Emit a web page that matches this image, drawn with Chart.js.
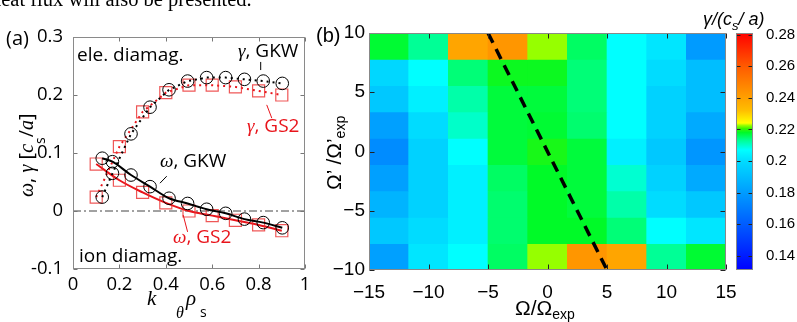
<!DOCTYPE html>
<html><head><meta charset="utf-8">
<script src="https://cdn.jsdelivr.net/npm/chart.js@4.4.1/dist/chart.umd.min.js"></script>
<style>
html,body{margin:0;padding:0;background:#fff;}
body{position:relative;width:797px;height:322px;overflow:hidden;}
canvas{position:absolute;top:0;}
#c1{left:0px} #c2{left:310px} #c3{left:730px}
svg{position:absolute;left:0;top:0;}
.gi{font-family:'Liberation Serif',serif;font-style:italic;}
</style></head><body>
<canvas id="c1" width="320" height="322"></canvas>
<canvas id="c2" width="440" height="322"></canvas>
<canvas id="c3" width="67" height="322"></canvas>
<svg width="797" height="322" xmlns="http://www.w3.org/2000/svg" font-family="'Open Sans'">
  <text x="-9" y="6" font-family="'Liberation Serif'" font-size="20.5">heat flux will also be presented.</text>
  <text x="6" y="45" font-size="20">(a)</text>
  <text x="316" y="42" font-family="'Liberation Sans'" font-size="20">(b)</text>
  <text x="77" y="61" font-size="19">ele. diamag.</text>
  <text x="79" y="262" font-size="19">ion diamag.</text>
  <text x="238" y="57" font-size="19"><tspan class="gi">γ</tspan>, GKW</text>
  <text x="247" y="132" font-size="19" fill="#e8141b"><tspan class="gi">γ</tspan>, GS2</text>
  <text x="160" y="167" font-size="19"><tspan class="gi">ω</tspan>, GKW</text>
  <text x="173" y="243" font-size="19" fill="#e8141b"><tspan class="gi">ω</tspan>, GS2</text>
  <text transform="translate(33,197) rotate(-90)" font-size="20"><tspan class="gi">ω</tspan>, <tspan class="gi">γ</tspan> [<tspan class="gi">c</tspan><tspan font-size="14" dy="12">s</tspan><tspan dy="-12">/</tspan><tspan class="gi">a</tspan>]</text>
  <text y="305" font-size="21"><tspan x="147" class="gi">k</tspan><tspan x="176" dy="13" class="gi" font-size="16">θ</tspan><tspan x="186" dy="-13" class="gi">ρ</tspan><tspan x="200" dy="12" font-size="14">s</tspan></text>
  <text transform="translate(341,190) rotate(-90)" font-family="'Liberation Sans'" font-size="21">Ω’ /Ω’<tspan font-size="14" dy="4">exp</tspan></text>
  <text x="515" y="315" font-family="'Liberation Sans'" font-size="21">Ω/Ω<tspan font-size="14" dy="4">exp</tspan></text>
  <text x="703" y="25" font-family="'Liberation Sans'" font-style="italic" font-size="18">γ/(c<tspan font-size="13" dy="5">s</tspan><tspan dy="-5">/ a)</tspan></text>
</svg>
<script>
// ---------------- panel (a) data ----------------
const kGKW     = [0.126, 0.170, 0.250, 0.332, 0.414, 0.494, 0.576, 0.658, 0.739, 0.820, 0.902];
const gammaGKW = [0.024, 0.065, 0.133, 0.179, 0.209, 0.224, 0.230, 0.230, 0.227, 0.224, 0.220];
const omegaGKW = [0.091, 0.085, 0.062, 0.042, 0.022, 0.013, 0.003, -0.004, -0.014, -0.020, -0.029];
const kGS2     = [0.1, 0.2, 0.3, 0.4, 0.5, 0.6, 0.7, 0.8, 0.9];
const gammaGS2 = [0.024, 0.111, 0.171, 0.204, 0.217, 0.217, 0.214, 0.207, 0.200];
const omegaGS2 = [0.081, 0.053, 0.032, 0.014, 0.000, -0.008, -0.016, -0.024, -0.034];
const xTicksA = [0, 0.2, 0.4, 0.6, 0.8, 1];
const yTicksA = [-0.1, 0, 0.1, 0.2, 0.3];
const xRangeA = [0, 1];
const yRangeA = [-0.1, 0.3];

// ---------------- panel (b) data ----------------
const omegaCenters      = [-13.333, -10, -6.667, -3.333, 0, 3.333, 6.667, 10, 13.333];
const omegaPrimeCenters = [8.889, 6.667, 4.444, 2.222, 0, -2.222, -4.444, -6.667, -8.889];
const gammaRowP8_9 = [0.2175, 0.213, 0.2387, 0.2429, 0.2225, 0.2153, 0.207, 0.202, 0.1793];
const gammaRowP6_7 = [0.1984, 0.207, 0.2144, 0.2185, 0.2185, 0.2144, 0.207, 0.200, 0.1905];
const gammaRowP4_4 = [0.1936, 0.204, 0.2119, 0.2171, 0.2171, 0.2144, 0.207, 0.1968, 0.1905];
const gammaRowP2_2 = [0.1809, 0.200, 0.2101, 0.2171, 0.2175, 0.2148, 0.207, 0.1968, 0.1841];
const gammaRow0    = [0.1745, 0.1968, 0.207, 0.2171, 0.219, 0.2171, 0.204, 0.1936, 0.1777];
const gammaRowM2_2 = [0.1809, 0.1968, 0.204, 0.2153, 0.218, 0.2171, 0.2096, 0.1968, 0.1841];
const gammaRowM4_4 = [0.1873, 0.1968, 0.204, 0.2148, 0.218, 0.2171, 0.2119, 0.200, 0.1936];
const gammaRowM6_7 = [0.1936, 0.200, 0.204, 0.2148, 0.218, 0.218, 0.2144, 0.207, 0.202];
const gammaRowM8_9 = [0.1809, 0.202, 0.207, 0.2153, 0.2225, 0.2429, 0.2387, 0.213, 0.2175];
const gammaRows = [gammaRowP8_9, gammaRowP6_7, gammaRowP4_4, gammaRowP2_2, gammaRow0,
                   gammaRowM2_2, gammaRowM4_4, gammaRowM6_7, gammaRowM8_9];
const dashOmega      = [-5, 5];
const dashOmegaPrime = [10, -10];
const xTicksB = [-15, -10, -5, 0, 5, 10, 15];
const yTicksB = [-10, -5, 0, 5, 10];
const xRangeB = [-15, 15];
const yRangeB = [-10, 10];
const cbTicks = [0.14, 0.16, 0.18, 0.2, 0.22, 0.24, 0.26, 0.28];
const cbRange = [0.131, 0.281];

// ---------------- colour map ----------------
const CMAP = [
  [0.130, 0, 0, 255],
  [0.200, 0, 220, 255],
  [0.207, 0, 255, 255],
  [0.213, 0, 255, 150],
  [0.218, 0, 250, 40],
  [0.2205, 60, 245, 0],
  [0.2225, 150, 255, 0],
  [0.224, 255, 255, 0],
  [0.232, 255, 190, 0],
  [0.240, 255, 160, 0],
  [0.260, 255, 90, 0],
  [0.281, 255, 0, 0]
];
function cmap(v) {
  if (v <= CMAP[0][0]) return `rgb(${CMAP[0][1]},${CMAP[0][2]},${CMAP[0][3]})`;
  for (let i = 1; i < CMAP.length; i++) {
    const a = CMAP[i - 1], b = CMAP[i];
    if (v <= b[0]) {
      const t = (v - a[0]) / (b[0] - a[0]);
      const c = [1, 2, 3].map(j => Math.round(a[j] + (b[j] - a[j]) * t));
      return `rgb(${c[0]},${c[1]},${c[2]})`;
    }
  }
  const l = CMAP[CMAP.length - 1];
  return `rgb(${l[1]},${l[2]},${l[3]})`;
}

Chart.defaults.animation = false;
Chart.defaults.events = [];
Chart.defaults.plugins.legend.display = false;
Chart.defaults.plugins.tooltip.enabled = false;
Chart.defaults.color = '#000';

const fmt = v => String(Math.round(v * 1000) / 1000);
const fmtMinus = v => fmt(v).replace('-', '\u2212');

const framePlugin = {
  id: 'frame',
  afterDatasetsDraw(chart, _a, o) {
    const {ctx, chartArea: a} = chart;
    const L = Math.round(a.left) + 0.5, R = Math.round(a.right) - 0.5;
    const T = Math.round(a.top) + 0.5, B = Math.round(a.bottom) - 0.5;
    ctx.save();
    ctx.lineWidth = 1;
    ctx.strokeStyle = o.tickColor;
    ctx.beginPath();
    if (o.xAxis) {
      const s = chart.scales[o.xAxis];
      s.ticks.forEach(t => {
        const p = Math.round(s.getPixelForValue(t.value)) + 0.5;
        ctx.moveTo(p, T); ctx.lineTo(p, T + o.len);
        ctx.moveTo(p, B); ctx.lineTo(p, B - o.len);
      });
    }
    if (o.yAxis) {
      const s = chart.scales[o.yAxis];
      s.ticks.forEach(t => {
        const p = Math.round(s.getPixelForValue(t.value)) + 0.5;
        ctx.moveTo(L, p); ctx.lineTo(L + o.len, p);
        ctx.moveTo(R, p); ctx.lineTo(R - o.len, p);
      });
    }
    ctx.stroke();
    ctx.strokeStyle = o.borderColor;
    ctx.strokeRect(L, T, R - L, B - T);
    ctx.restore();
  }
};

const leaderPlugin = {
  id: 'leaders',
  afterDatasetsDraw(chart, _a, o) {
    const {ctx, scales: {x, y}} = chart;
    ctx.save();
    ctx.lineWidth = 1;
    o.lines.forEach(l => {
      ctx.strokeStyle = l.color;
      ctx.beginPath();
      ctx.moveTo(x.getPixelForValue(l.from[0]), y.getPixelForValue(l.from[1]));
      ctx.lineTo(x.getPixelForValue(l.to[0]), y.getPixelForValue(l.to[1]));
      ctx.stroke();
    });
    ctx.restore();
  }
};

const RED = '#e8141b';
const RED_MARK = 'rgba(235,45,45,0.8)';
const pts = (xs, ys) => xs.map((x, i) => ({x, y: ys[i]}));
const fontA = {family: "'Open Sans'", size: 18.5};

// ---------------- panel (a) ----------------
new Chart(document.getElementById('c1'), {
  type: 'scatter',
  data: {
    datasets: [
      {data: pts(kGKW, gammaGKW), showLine: true, borderColor: '#000', borderWidth: 2, borderDash: [2, 4],
       pointStyle: 'circle', pointRadius: 6.3, pointBorderWidth: 1, pointBorderColor: '#000', pointBackgroundColor: 'rgba(0,0,0,0)'},
      {data: pts(kGKW, omegaGKW), showLine: true, borderColor: '#000', borderWidth: 2, cubicInterpolationMode: 'monotone',
       pointStyle: 'circle', pointRadius: 6.3, pointBorderWidth: 1, pointBorderColor: '#000', pointBackgroundColor: 'rgba(0,0,0,0)'},
      {data: pts(kGS2, gammaGS2), showLine: true, borderColor: RED, borderWidth: 2, borderDash: [2, 4],
       pointStyle: 'rect', pointRadius: 8.5, pointBorderWidth: 1.2, pointBorderColor: RED_MARK, pointBackgroundColor: 'rgba(0,0,0,0)'},
      {data: pts(kGS2, omegaGS2), showLine: true, borderColor: RED, borderWidth: 2, cubicInterpolationMode: 'monotone',
       pointStyle: 'rect', pointRadius: 8.5, pointBorderWidth: 1.2, pointBorderColor: RED_MARK, pointBackgroundColor: 'rgba(0,0,0,0)'},
      {data: pts(xRangeA, [0, 0]), showLine: true, borderColor: '#444', borderWidth: 1, borderDash: [8, 3, 2, 3], pointRadius: 0}
    ]
  },
  options: {
    responsive: false,
    layout: {padding: {left: 0, right: 15, top: 37, bottom: 0}},
    scales: {
      x: {type: 'linear', min: xRangeA[0], max: xRangeA[1],
          grid: {display: false, drawTicks: false}, border: {display: false},
          afterBuildTicks: s => { s.ticks = xTicksA.map(v => ({value: v})); },
          afterFit: s => { s.height = 53; },
          ticks: {padding: 5, font: fontA, color: '#000', callback: fmt, maxRotation: 0, autoSkip: false}},
      y: {type: 'linear', min: yRangeA[0], max: yRangeA[1],
          grid: {display: false, drawTicks: false}, border: {display: false},
          afterBuildTicks: s => { s.ticks = yTicksA.map(v => ({value: v})); },
          afterFit: s => { s.width = 73; },
          ticks: {padding: 10, font: fontA, color: '#000', callback: fmt, autoSkip: false}}
    },
    plugins: {
      frame: {xAxis: 'x', yAxis: 'y', len: 4, tickColor: '#777', borderColor: '#8a8a8a'},
      leaders: {lines: [
        {from: [0.809, 0.257], to: [0.809, 0.243], color: '#000'},
        {from: [0.835, 0.183], to: [0.857, 0.160], color: RED},
        {from: [0.404, 0.060], to: [0.375, 0.048], color: '#000'},
        {from: [0.475, -0.007], to: [0.494, -0.036], color: RED}
      ]}
    }
  },
  plugins: [framePlugin, leaderPlugin]
});

// ---------------- panel (b) heat map ----------------
const halfH = (omegaPrimeCenters[0] - omegaPrimeCenters[1]) / 2;
const fontB = {family: "'Liberation Sans'", size: 19};
const cellSets = gammaRows.map((row, r) => ({
  data: omegaCenters.map(c => ({x: c, y: [omegaPrimeCenters[r] - halfH, omegaPrimeCenters[r] + halfH]})),
  backgroundColor: row.map(cmap),
  borderWidth: 0, grouped: false, barPercentage: 1, categoryPercentage: 1,
  xAxisID: 'x', yAxisID: 'y'
}));
new Chart(document.getElementById('c2'), {
  type: 'bar',
  data: {
    datasets: [
      {type: 'line', data: pts(dashOmega, dashOmegaPrime), borderColor: '#000', borderWidth: 3.5,
       borderDash: [11, 7], pointRadius: 0, xAxisID: 'x', yAxisID: 'y'},
      ...cellSets
    ]
  },
  options: {
    responsive: false,
    layout: {padding: {left: 0, right: 24, top: 33, bottom: 0}},
    scales: {
      x: {type: 'linear', min: xRangeB[0], max: xRangeB[1], offset: false,
          grid: {display: false, drawTicks: false, offset: false}, border: {display: false},
          afterBuildTicks: s => { s.ticks = xTicksB.map(v => ({value: v})); },
          afterFit: s => { s.height = 52; },
          ticks: {padding: 11, font: fontB, color: '#000', callback: fmtMinus, maxRotation: 0, autoSkip: false}},
      y: {type: 'linear', min: yRangeB[0], max: yRangeB[1],
          grid: {display: false, drawTicks: false}, border: {display: false},
          afterBuildTicks: s => { s.ticks = yTicksB.map(v => ({value: v})); },
          afterFit: s => { s.width = 59; },
          ticks: {padding: 4, font: fontB, color: '#000', callback: fmtMinus, autoSkip: false}}
    },
    plugins: {frame: {xAxis: 'x', yAxis: 'y', len: 5, tickColor: '#222', borderColor: '#888'}}
  },
  plugins: [framePlugin]
});

// ---------------- colour bar ----------------
function cbGradient(context) {
  const chart = context.chart;
  const s = chart.scales && chart.scales.y;
  if (!chart.chartArea || !s) return 'rgba(0,0,0,0)';
  const p0 = s.getPixelForValue(cbRange[0]), p1 = s.getPixelForValue(cbRange[1]);
  const g = chart.ctx.createLinearGradient(0, p0, 0, p1);
  CMAP.forEach(c => {
    const t = Math.min(1, Math.max(0, (c[0] - cbRange[0]) / (cbRange[1] - cbRange[0])));
    g.addColorStop(t, `rgb(${c[1]},${c[2]},${c[3]})`);
  });
  return g;
}
new Chart(document.getElementById('c3'), {
  type: 'bar',
  data: {labels: ['γ'], datasets: [{data: [cbRange], backgroundColor: cbGradient, borderWidth: 0,
    barPercentage: 1, categoryPercentage: 1}]},
  options: {
    responsive: false,
    layout: {padding: {left: 6, right: 0, top: 33, bottom: 52}},
    scales: {
      x: {display: false},
      y: {type: 'linear', position: 'right', min: cbRange[0], max: cbRange[1],
          grid: {display: false, drawTicks: false}, border: {display: false},
          afterBuildTicks: s => { s.ticks = cbTicks.map(v => ({value: v})); },
          afterFit: s => { s.width = 44; },
          ticks: {padding: 13, font: {family: "'Liberation Sans'", size: 15}, color: '#000', callback: fmt, autoSkip: false}}
    },
    plugins: {frame: {yAxis: 'y', len: 4, tickColor: '#222', borderColor: '#888'}}
  },
  plugins: [framePlugin]
});
</script>
</body></html>
